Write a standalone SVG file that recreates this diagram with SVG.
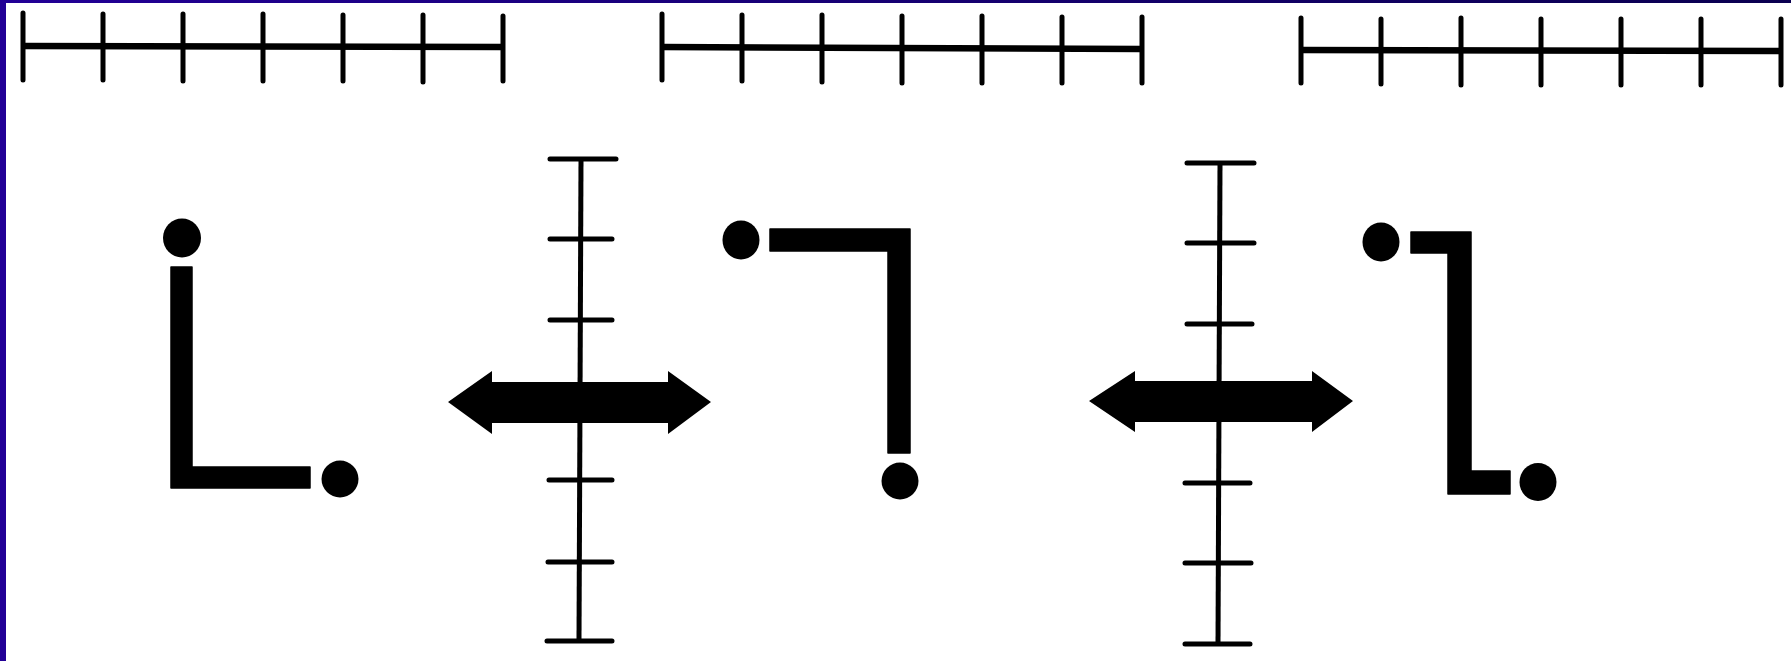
<svg xmlns="http://www.w3.org/2000/svg" width="1791" height="661" viewBox="0 0 1791 661">
  <defs>
    <linearGradient id="topband" x1="0" y1="0" x2="1" y2="0">
      <stop offset="0" stop-color="#220096"/>
      <stop offset="1" stop-color="#0a0050"/>
    </linearGradient>
    <style>
      .rl { stroke: #000; stroke-width: 6.5; fill: none; }
      .tk { stroke: #000; stroke-width: 5; fill: none; stroke-linecap: round; }
      .vl { stroke: #000; stroke-width: 5; fill: none; }
      .cap { stroke: #000; stroke-width: 5; fill: none; stroke-linecap: round; }
      .ink { fill: #000; }
      .bar { fill: #000; stroke: #000; stroke-width: 1.5; stroke-linejoin: round; }
    </style>
  </defs>
  <rect x="0" y="0" width="1791" height="661" fill="#ffffff"/>
  <rect x="0" y="0" width="1791" height="3" fill="url(#topband)"/>
  <rect x="0" y="0" width="6" height="661" fill="#220096"/>

  <g id="ruler1">
    <line class="rl" x1="23" y1="46" x2="503" y2="47"/>
    <path class="tk" d="M23 13V80 M103 14V80 M183 14V81 M263 14V81 M343 15V81 M423 15V82 M503 16V81"/>
  </g>
  <g id="ruler2">
    <line class="rl" x1="662" y1="47" x2="1142" y2="49"/>
    <path class="tk" d="M662 14V80 M742 15V81 M822 15V82 M902 16V83 M982 16V83 M1062 17V83 M1142 17V83"/>
  </g>
  <g id="ruler3">
    <line class="rl" x1="1301" y1="50" x2="1781" y2="51"/>
    <path class="tk" d="M1301 18V83 M1381 19V84 M1461 18V85 M1541 19V85 M1621 19V85 M1701 19V85 M1781 19V85"/>
  </g>

  <g id="scale1">
    <line class="vl" x1="581" y1="159" x2="579" y2="641"/>
    <path class="cap" d="M550 159H616 M550 239H612 M550 320H612 M549 480H612 M548 562H612 M547 641H612"/>
  </g>
  <g id="scale2">
    <line class="vl" x1="1220" y1="163" x2="1218" y2="644"/>
    <path class="cap" d="M1187 163H1254 M1187 243H1254 M1187 324H1252 M1185 483H1250 M1185 563H1251 M1185 644H1250"/>
  </g>

  <g id="shape1">
    <ellipse class="ink" cx="182" cy="238" rx="19" ry="19.5"/>
    <path class="bar" d="M171 267H192V467H310V488H171Z"/>
    <ellipse class="ink" cx="340" cy="479" rx="18.5" ry="18.5"/>
  </g>
  <g id="shape2">
    <ellipse class="ink" cx="741" cy="240" rx="18.5" ry="19.5"/>
    <path class="bar" d="M770 229H910V453H888V251H770Z"/>
    <ellipse class="ink" cx="900" cy="481" rx="18.5" ry="18.5"/>
  </g>
  <g id="shape3">
    <ellipse class="ink" cx="1381" cy="242" rx="18.5" ry="19.5"/>
    <path class="bar" d="M1411 232H1471V471H1510V494H1448V253H1411Z"/>
    <ellipse class="ink" cx="1538" cy="482" rx="18.5" ry="19"/>
  </g>

  <g id="connectors">
    <polygon class="ink" points="448,402 492,371 492,382 668,382 668,371 711,402 668,434 668,423 492,423 492,434"/>
    <polygon class="ink" points="1089,401 1135,371 1135,381 1312,381 1312,371 1353,401 1312,432 1312,422 1135,422 1135,432"/>
  </g>
</svg>
